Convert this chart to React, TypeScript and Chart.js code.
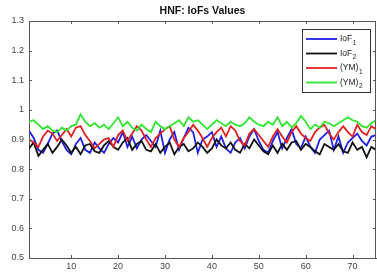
import React, { useEffect, useRef } from "react";
import { Chart, registerables } from "chart.js";

Chart.register(...registerables);

const xValues: number[] = Array.from({ length: 75 }, (_, i) => i + 1);

const iof1: number[] = [0.93, 0.905, 0.865, 0.855, 0.885, 0.92, 0.93, 0.895, 0.865, 0.85, 0.885, 0.905, 0.865, 0.855, 0.89, 0.87, 0.855, 0.885, 0.905, 0.89, 0.925, 0.875, 0.91, 0.87, 0.9, 0.915, 0.895, 0.875, 0.93, 0.855, 0.9, 0.925, 0.865, 0.905, 0.94, 0.925, 0.855, 0.9, 0.91, 0.925, 0.875, 0.91, 0.87, 0.855, 0.89, 0.905, 0.87, 0.91, 0.935, 0.895, 0.865, 0.855, 0.895, 0.925, 0.87, 0.905, 0.935, 0.885, 0.87, 0.91, 0.875, 0.855, 0.9, 0.915, 0.93, 0.865, 0.91, 0.855, 0.89, 0.905, 0.92, 0.895, 0.88, 0.91, 0.915];

const iof2: number[] = [0.87, 0.89, 0.845, 0.865, 0.885, 0.855, 0.875, 0.9, 0.88, 0.855, 0.875, 0.85, 0.88, 0.885, 0.86, 0.855, 0.88, 0.895, 0.875, 0.865, 0.89, 0.905, 0.865, 0.885, 0.895, 0.865, 0.86, 0.885, 0.855, 0.875, 0.89, 0.85, 0.875, 0.885, 0.86, 0.87, 0.89, 0.875, 0.855, 0.87, 0.9, 0.88, 0.87, 0.89, 0.865, 0.855, 0.885, 0.87, 0.9, 0.88, 0.86, 0.85, 0.88, 0.855, 0.885, 0.865, 0.89, 0.895, 0.865, 0.885, 0.875, 0.86, 0.85, 0.885, 0.875, 0.865, 0.885, 0.86, 0.855, 0.89, 0.865, 0.875, 0.84, 0.875, 0.865];

const ym1: number[] = [0.9, 0.89, 0.875, 0.91, 0.93, 0.92, 0.895, 0.915, 0.935, 0.91, 0.94, 0.945, 0.915, 0.895, 0.87, 0.885, 0.9, 0.905, 0.875, 0.915, 0.93, 0.895, 0.92, 0.945, 0.93, 0.9, 0.875, 0.905, 0.92, 0.935, 0.945, 0.9, 0.875, 0.905, 0.925, 0.95, 0.93, 0.905, 0.875, 0.905, 0.925, 0.94, 0.91, 0.945, 0.93, 0.895, 0.88, 0.92, 0.935, 0.915, 0.895, 0.875, 0.91, 0.935, 0.91, 0.89, 0.925, 0.945, 0.92, 0.905, 0.895, 0.925, 0.94, 0.95, 0.92, 0.9, 0.925, 0.945, 0.925, 0.91, 0.95, 0.925, 0.915, 0.945, 0.935];

const ym2: number[] = [0.96, 0.965, 0.95, 0.935, 0.945, 0.93, 0.925, 0.94, 0.93, 0.945, 0.95, 0.985, 0.96, 0.945, 0.955, 0.94, 0.95, 0.935, 0.955, 0.975, 0.945, 0.96, 0.94, 0.93, 0.95, 0.935, 0.925, 0.96, 0.945, 0.935, 0.945, 0.955, 0.965, 0.945, 0.975, 0.96, 0.965, 0.95, 0.935, 0.95, 0.965, 0.955, 0.945, 0.96, 0.95, 0.945, 0.955, 0.975, 0.96, 0.95, 0.945, 0.96, 0.95, 0.975, 0.945, 0.96, 0.94, 0.955, 0.98, 0.96, 0.935, 0.95, 0.94, 0.96, 0.955, 0.945, 0.955, 0.965, 0.975, 0.965, 0.96, 0.945, 0.94, 0.955, 0.965];

const seriesNames: [string, string][] = [["IoF", "1"], ["IoF", "2"], ["(YM)", "1"], ["(YM)", "2"]];
const seriesColors: string[] = ["#1e1ee6", "#111111", "#e02020", "#2ee62e"];
const titleText = "HNF: IoFs Values";

const FONT = "'Liberation Sans', Arial, Helvetica, sans-serif";

const framePlugin = {
  id: "frame",
  afterDraw(chart: any) {
    const { ctx, chartArea } = chart;
    const { left, right, top, bottom } = chartArea;
    const xs = chart.scales.x;
    const ys = chart.scales.y;
    ctx.save();
    ctx.strokeStyle = "#555";
    ctx.lineWidth = 1;
    ctx.beginPath();
    ctx.moveTo(left + 0.5, top + 0.5);
    ctx.lineTo(right - 0.5, top + 0.5);
    ctx.lineTo(right - 0.5, bottom);
    ctx.stroke();
    const tl = 3;
    ctx.beginPath();
    xs.ticks.forEach((t: any) => {
      const px = Math.round(xs.getPixelForValue(t.value)) + 0.5;
      ctx.moveTo(px, bottom);
      ctx.lineTo(px, bottom - tl);
      ctx.moveTo(px, top);
      ctx.lineTo(px, top + tl);
    });
    ys.ticks.forEach((t: any) => {
      const py = Math.round(ys.getPixelForValue(t.value)) + 0.5;
      ctx.moveTo(left, py);
      ctx.lineTo(left + tl, py);
      ctx.moveTo(right, py);
      ctx.lineTo(right - tl, py);
    });
    ctx.stroke();

    // title
    ctx.fillStyle = "#111";
    ctx.font = `bold 10.5px ${FONT}`;
    ctx.textAlign = "center";
    ctx.textBaseline = "middle";
    ctx.fillText(titleText, (left + right) / 2, 11);

    // legend
    const bx = 302, by = 29, bw = 68, bh = 63;
    ctx.fillStyle = "#fff";
    ctx.fillRect(bx, by, bw, bh);
    ctx.strokeStyle = "#333";
    ctx.lineWidth = 1;
    ctx.strokeRect(bx + 0.5, by + 0.5, bw, bh);
    seriesNames.forEach((nm, i) => {
      const ly = by + 10 + i * 14.5;
      ctx.strokeStyle = seriesColors[i];
      ctx.lineWidth = 1.8;
      ctx.beginPath();
      ctx.moveTo(bx + 4, ly);
      ctx.lineTo(bx + 35, ly);
      ctx.stroke();
      ctx.fillStyle = "#222";
      ctx.textAlign = "left";
      ctx.textBaseline = "middle";
      ctx.font = `8.5px ${FONT}`;
      ctx.fillText(nm[0], bx + 38, ly);
      const w = ctx.measureText(nm[0]).width;
      ctx.font = `6.5px ${FONT}`;
      ctx.fillText(nm[1], bx + 38 + w + 0.5, ly + 4);
    });
    ctx.restore();
  },
};

export default function App() {
  const ref = useRef<HTMLCanvasElement>(null);
  useEffect(() => {
    document.body.style.margin = "0";
    const mk = (data: number[], i: number) => ({
      label: seriesNames[i].join(""),
      data: data.map((v, k) => ({ x: xValues[k], y: v })),
      borderColor: seriesColors[i],
      backgroundColor: seriesColors[i],
      borderWidth: 1.8,
      pointRadius: 0,
      tension: 0,
      fill: false,
      order: 4 - i,
    });
    const chart = new Chart(ref.current as HTMLCanvasElement, {
      type: "line",
      data: {
        datasets: [mk(iof1, 0), mk(iof2, 1), mk(ym1, 2), mk(ym2, 3)],
      },
      plugins: [framePlugin],
      options: {
        animation: false,
        responsive: false,
        layout: { padding: { top: 21, right: 1, left: 0, bottom: 0 } },
        plugins: { legend: { display: false }, title: { display: false }, tooltip: { enabled: false } },
        scales: {
          x: {
            type: "linear",
            min: 1,
            max: 75,
            grid: { display: false, drawTicks: false },
            border: { display: true, color: "#555", width: 1 },
            ticks: { stepSize: 10, includeBounds: false, padding: 3, color: "#444", font: { family: FONT, size: 9 }, maxRotation: 0 },
            afterFit: (s: any) => { s.height = 15; },
          },
          y: {
            type: "linear",
            min: 0.5,
            max: 1.3,
            grid: { display: false, drawTicks: false },
            border: { display: true, color: "#555", width: 1 },
            ticks: {
              stepSize: 0.1,
              padding: 5,
              color: "#444",
              font: { family: FONT, size: 9 },
              callback: (v: any) => String(Number(Number(v).toFixed(2))),
            },
            afterFit: (s: any) => { s.width = 29; },
          },
        },
      },
    } as any);
    return () => chart.destroy();
  }, []);
  return (
    <div style={{ width: 377, height: 273, background: "#fff" }}>
      <canvas ref={ref} width={377} height={273} />
    </div>
  );
}
